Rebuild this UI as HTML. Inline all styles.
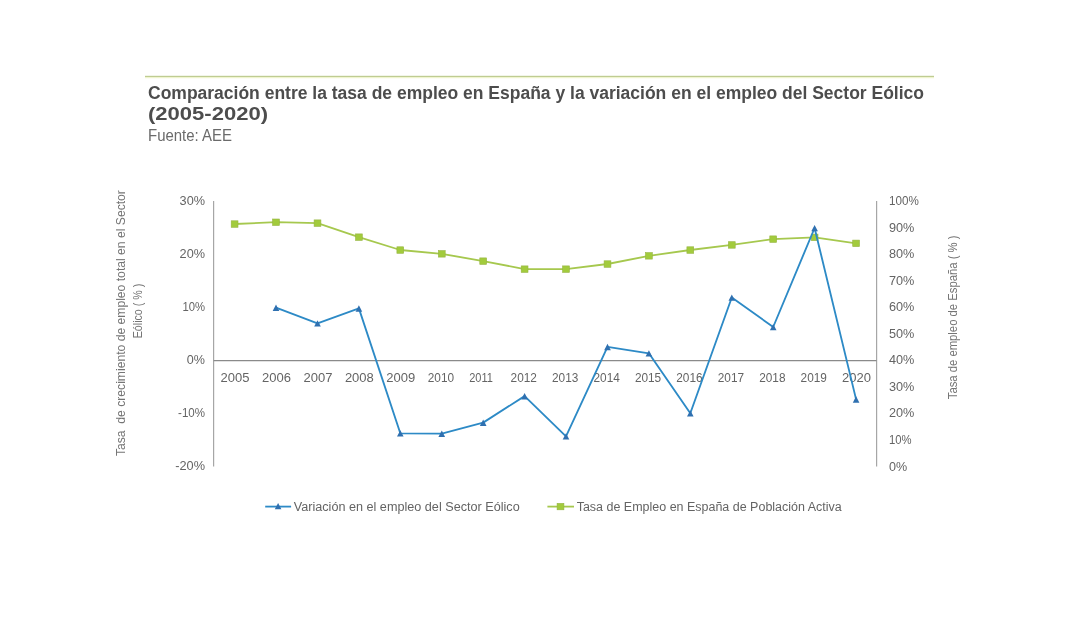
<!DOCTYPE html>
<html><head><meta charset="utf-8"><style>
html,body{margin:0;padding:0;background:#fff;width:1080px;height:621px;overflow:hidden;}
svg{position:absolute;left:0;top:0;will-change:transform;}
text{font-family:"Liberation Sans", sans-serif;}
</style></head><body>
<svg width="1080" height="621" viewBox="0 0 1080 621">
<rect x="145" y="77" width="789" height="1.3" fill="#f4f9d6"/><rect x="145" y="75.8" width="789" height="1.3" fill="#bfcc92"/>
<text x="148" y="99.1" font-size="17.5" font-weight="bold" fill="#4d4d4d" textLength="776" lengthAdjust="spacingAndGlyphs">Comparación entre la tasa de empleo en España y la variación en el empleo del Sector Eólico</text>
<text x="148" y="119.8" font-size="17.5" font-weight="bold" fill="#4d4d4d" textLength="120" lengthAdjust="spacingAndGlyphs">(2005-2020)</text>
<text x="148" y="140.9" font-size="16" fill="#6a6a6a" textLength="84" lengthAdjust="spacingAndGlyphs">Fuente: AEE</text>
<text x="205" y="205.0" font-size="13" fill="#646464" text-anchor="end" font-weight="normal" textLength="25.41" lengthAdjust="spacingAndGlyphs">30%</text><text x="205" y="258.1" font-size="13" fill="#646464" text-anchor="end" font-weight="normal" textLength="25.41" lengthAdjust="spacingAndGlyphs">20%</text><text x="205" y="311.2" font-size="13" fill="#646464" text-anchor="end" font-weight="normal" textLength="22.61" lengthAdjust="spacingAndGlyphs">10%</text><text x="205" y="364.2" font-size="13" fill="#646464" text-anchor="end" font-weight="normal" textLength="18.18" lengthAdjust="spacingAndGlyphs">0%</text><text x="205" y="417.3" font-size="13" fill="#646464" text-anchor="end" font-weight="normal" textLength="26.94" lengthAdjust="spacingAndGlyphs">-10%</text><text x="205" y="470.4" font-size="13" fill="#646464" text-anchor="end" font-weight="normal" textLength="29.74" lengthAdjust="spacingAndGlyphs">-20%</text><text x="889" y="205.1" font-size="13" fill="#646464" text-anchor="start" font-weight="normal" textLength="29.84" lengthAdjust="spacingAndGlyphs">100%</text><text x="889" y="231.6" font-size="13" fill="#646464" text-anchor="start" font-weight="normal" textLength="25.41" lengthAdjust="spacingAndGlyphs">90%</text><text x="889" y="258.2" font-size="13" fill="#646464" text-anchor="start" font-weight="normal" textLength="25.41" lengthAdjust="spacingAndGlyphs">80%</text><text x="889" y="284.7" font-size="13" fill="#646464" text-anchor="start" font-weight="normal" textLength="25.41" lengthAdjust="spacingAndGlyphs">70%</text><text x="889" y="311.3" font-size="13" fill="#646464" text-anchor="start" font-weight="normal" textLength="25.41" lengthAdjust="spacingAndGlyphs">60%</text><text x="889" y="337.8" font-size="13" fill="#646464" text-anchor="start" font-weight="normal" textLength="25.41" lengthAdjust="spacingAndGlyphs">50%</text><text x="889" y="364.3" font-size="13" fill="#646464" text-anchor="start" font-weight="normal" textLength="25.41" lengthAdjust="spacingAndGlyphs">40%</text><text x="889" y="390.9" font-size="13" fill="#646464" text-anchor="start" font-weight="normal" textLength="25.41" lengthAdjust="spacingAndGlyphs">30%</text><text x="889" y="417.4" font-size="13" fill="#646464" text-anchor="start" font-weight="normal" textLength="25.41" lengthAdjust="spacingAndGlyphs">20%</text><text x="889" y="444.0" font-size="13" fill="#646464" text-anchor="start" font-weight="normal" textLength="22.61" lengthAdjust="spacingAndGlyphs">10%</text><text x="889" y="470.5" font-size="13" fill="#646464" text-anchor="start" font-weight="normal" textLength="18.18" lengthAdjust="spacingAndGlyphs">0%</text><text x="220.6" y="382" font-size="13" fill="#646464" text-anchor="start" font-weight="normal" textLength="28.91" lengthAdjust="spacingAndGlyphs">2005</text><text x="262.0" y="382" font-size="13" fill="#646464" text-anchor="start" font-weight="normal" textLength="28.91" lengthAdjust="spacingAndGlyphs">2006</text><text x="303.5" y="382" font-size="13" fill="#646464" text-anchor="start" font-weight="normal" textLength="28.91" lengthAdjust="spacingAndGlyphs">2007</text><text x="344.9" y="382" font-size="13" fill="#646464" text-anchor="start" font-weight="normal" textLength="28.91" lengthAdjust="spacingAndGlyphs">2008</text><text x="386.3" y="382" font-size="13" fill="#646464" text-anchor="start" font-weight="normal" textLength="28.91" lengthAdjust="spacingAndGlyphs">2009</text><text x="427.8" y="382" font-size="13" fill="#646464" text-anchor="start" font-weight="normal" textLength="26.31" lengthAdjust="spacingAndGlyphs">2010</text><text x="469.2" y="382" font-size="13" fill="#646464" text-anchor="start" font-weight="normal" textLength="23.71" lengthAdjust="spacingAndGlyphs">2011</text><text x="510.6" y="382" font-size="13" fill="#646464" text-anchor="start" font-weight="normal" textLength="26.31" lengthAdjust="spacingAndGlyphs">2012</text><text x="552.0" y="382" font-size="13" fill="#646464" text-anchor="start" font-weight="normal" textLength="26.31" lengthAdjust="spacingAndGlyphs">2013</text><text x="593.5" y="382" font-size="13" fill="#646464" text-anchor="start" font-weight="normal" textLength="26.31" lengthAdjust="spacingAndGlyphs">2014</text><text x="634.9" y="382" font-size="13" fill="#646464" text-anchor="start" font-weight="normal" textLength="26.31" lengthAdjust="spacingAndGlyphs">2015</text><text x="676.3" y="382" font-size="13" fill="#646464" text-anchor="start" font-weight="normal" textLength="26.31" lengthAdjust="spacingAndGlyphs">2016</text><text x="717.8" y="382" font-size="13" fill="#646464" text-anchor="start" font-weight="normal" textLength="26.31" lengthAdjust="spacingAndGlyphs">2017</text><text x="759.2" y="382" font-size="13" fill="#646464" text-anchor="start" font-weight="normal" textLength="26.31" lengthAdjust="spacingAndGlyphs">2018</text><text x="800.6" y="382" font-size="13" fill="#646464" text-anchor="start" font-weight="normal" textLength="26.31" lengthAdjust="spacingAndGlyphs">2019</text><text x="842.1" y="382" font-size="13" fill="#646464" text-anchor="start" font-weight="normal" textLength="28.91" lengthAdjust="spacingAndGlyphs">2020</text>
<line x1="213.6" y1="201" x2="213.6" y2="466.4" stroke="#a6a6a6" stroke-width="1.2"/><line x1="876.6" y1="201" x2="876.6" y2="466.4" stroke="#a6a6a6" stroke-width="1.2"/><line x1="213.6" y1="360.6" x2="876.6" y2="360.6" stroke="#8a8a8a" stroke-width="1.2"/><path d="M234.6,224.0 L276.0,222.2 L317.5,223.1 L358.9,237.1 L400.3,250.0 L441.8,253.8 L483.2,261.1 L524.6,269.1 L566.0,269.1 L607.5,264.0 L648.9,255.8 L690.3,250.0 L731.8,244.9 L773.2,239.1 L814.6,237.3 L856.1,243.3" fill="none" stroke="#a6c84e" stroke-width="1.8" stroke-linejoin="round"/><rect x="231.2" y="220.8" width="6.8" height="6.5" fill="#a2cb3c" stroke="#96b442" stroke-width="0.6"/><rect x="272.6" y="219.0" width="6.8" height="6.5" fill="#a2cb3c" stroke="#96b442" stroke-width="0.6"/><rect x="314.1" y="219.9" width="6.8" height="6.5" fill="#a2cb3c" stroke="#96b442" stroke-width="0.6"/><rect x="355.5" y="233.9" width="6.8" height="6.5" fill="#a2cb3c" stroke="#96b442" stroke-width="0.6"/><rect x="396.9" y="246.8" width="6.8" height="6.5" fill="#a2cb3c" stroke="#96b442" stroke-width="0.6"/><rect x="438.4" y="250.6" width="6.8" height="6.5" fill="#a2cb3c" stroke="#96b442" stroke-width="0.6"/><rect x="479.8" y="257.9" width="6.8" height="6.5" fill="#a2cb3c" stroke="#96b442" stroke-width="0.6"/><rect x="521.2" y="265.9" width="6.8" height="6.5" fill="#a2cb3c" stroke="#96b442" stroke-width="0.6"/><rect x="562.6" y="265.9" width="6.8" height="6.5" fill="#a2cb3c" stroke="#96b442" stroke-width="0.6"/><rect x="604.1" y="260.8" width="6.8" height="6.5" fill="#a2cb3c" stroke="#96b442" stroke-width="0.6"/><rect x="645.5" y="252.6" width="6.8" height="6.5" fill="#a2cb3c" stroke="#96b442" stroke-width="0.6"/><rect x="686.9" y="246.8" width="6.8" height="6.5" fill="#a2cb3c" stroke="#96b442" stroke-width="0.6"/><rect x="728.4" y="241.7" width="6.8" height="6.5" fill="#a2cb3c" stroke="#96b442" stroke-width="0.6"/><rect x="769.8" y="235.9" width="6.8" height="6.5" fill="#a2cb3c" stroke="#96b442" stroke-width="0.6"/><rect x="811.2" y="234.1" width="6.8" height="6.5" fill="#a2cb3c" stroke="#96b442" stroke-width="0.6"/><rect x="852.7" y="240.1" width="6.8" height="6.5" fill="#a2cb3c" stroke="#96b442" stroke-width="0.6"/><path d="M276.0,307.6 L317.5,323.3 L358.9,308.4 L400.3,433.3 L441.8,433.6 L483.2,422.6 L524.6,396.1 L566.0,436.3 L607.5,346.9 L648.9,353.3 L690.3,413.3 L731.8,297.5 L773.2,327.0 L814.6,228.0 L856.1,399.4" fill="none" stroke="#2d8ac6" stroke-width="1.85" stroke-linejoin="round"/><path d="M276.0,304.5 L279.3,310.9 L272.7,310.9Z" fill="#2f70b0"/><path d="M317.5,320.2 L320.8,326.6 L314.2,326.6Z" fill="#2f70b0"/><path d="M358.9,305.3 L362.2,311.7 L355.6,311.7Z" fill="#2f70b0"/><path d="M400.3,430.2 L403.6,436.6 L397.0,436.6Z" fill="#2f70b0"/><path d="M441.8,430.5 L445.1,436.9 L438.4,436.9Z" fill="#2f70b0"/><path d="M483.2,419.5 L486.5,425.9 L479.9,425.9Z" fill="#2f70b0"/><path d="M524.6,393.0 L527.9,399.4 L521.3,399.4Z" fill="#2f70b0"/><path d="M566.0,433.2 L569.3,439.6 L562.7,439.6Z" fill="#2f70b0"/><path d="M607.5,343.8 L610.8,350.2 L604.2,350.2Z" fill="#2f70b0"/><path d="M648.9,350.2 L652.2,356.6 L645.6,356.6Z" fill="#2f70b0"/><path d="M690.3,410.2 L693.6,416.6 L687.0,416.6Z" fill="#2f70b0"/><path d="M731.8,294.4 L735.1,300.8 L728.5,300.8Z" fill="#2f70b0"/><path d="M773.2,323.9 L776.5,330.3 L769.9,330.3Z" fill="#2f70b0"/><path d="M814.6,224.9 L817.9,231.3 L811.3,231.3Z" fill="#2f70b0"/><path d="M856.1,396.3 L859.4,402.7 L852.8,402.7Z" fill="#2f70b0"/><line x1="265.2" y1="506.6" x2="291.1" y2="506.6" stroke="#2d8ac6" stroke-width="1.8"/><path d="M278.1,503.1 L281.4,509.3 L274.8,509.3Z" fill="#2f70b0"/><line x1="547.4" y1="506.6" x2="574" y2="506.6" stroke="#a6c84e" stroke-width="1.8"/><rect x="557.1" y="503.4" width="6.8" height="6.4" fill="#a2cb3c" stroke="#93b33f" stroke-width="0.6"/>
<text x="293.7" y="510.5" font-size="12" fill="#646464" text-anchor="start" font-weight="normal" textLength="226" lengthAdjust="spacingAndGlyphs">Variación en el empleo del Sector Eólico</text><text x="576.7" y="510.5" font-size="12" fill="#646464" text-anchor="start" font-weight="normal" textLength="265" lengthAdjust="spacingAndGlyphs">Tasa de Empleo en España de Población Activa</text><text x="0" y="0" font-size="13" fill="#757575" text-anchor="middle" font-weight="normal" textLength="266" lengthAdjust="spacingAndGlyphs" transform="translate(124.8,323.1) rotate(-90)" xml:space="preserve">Tasa  de crecimiento de empleo total en el Sector</text><text x="0" y="0" font-size="13" fill="#757575" text-anchor="middle" font-weight="normal" textLength="54.5" lengthAdjust="spacingAndGlyphs" transform="translate(142.2,311) rotate(-90)" xml:space="preserve">Eólico ( % )</text><text x="0" y="0" font-size="13" fill="#757575" text-anchor="middle" font-weight="normal" textLength="163.7" lengthAdjust="spacingAndGlyphs" transform="translate(957.4,317.4) rotate(-90)" xml:space="preserve">Tasa de empleo de España ( % )</text>
</svg>
</body></html>
